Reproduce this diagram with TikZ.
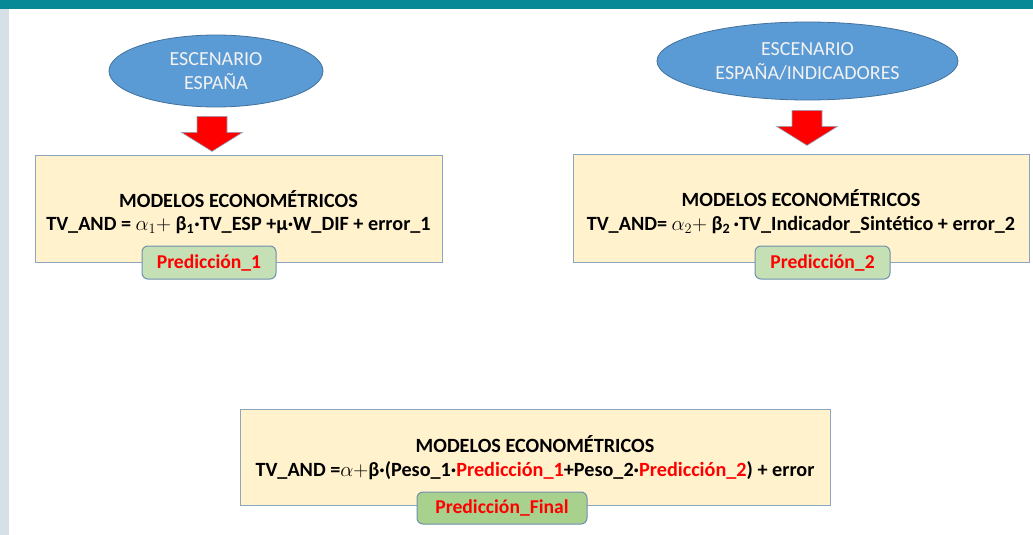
\documentclass[tikz,border=0pt]{standalone}
\usepackage{fontspec}
\setmainfont{Carlito}
\usetikzlibrary{shapes.geometric}
\definecolor{teal1}{HTML}{088A96}
\definecolor{strip}{HTML}{D6E1E7}
\definecolor{ellfill}{HTML}{5B9BD5}
\definecolor{elldraw}{HTML}{41719C}
\definecolor{boxfill}{HTML}{FFF2CC}
\definecolor{boxdraw}{HTML}{8EA5C0}
\definecolor{lblfill}{HTML}{C5E0B4}
\definecolor{lblfillb}{HTML}{A9D18E}
\definecolor{lbldraw}{HTML}{6F8FAF}
\definecolor{redt}{HTML}{FF0000}
\tikzset{
  scen/.style={ellipse, fill=ellfill, draw=elldraw, line width=0.8pt, text=white!95!black, align=center, font=\fontsize{20}{24}\selectfont, inner sep=0pt},
  modelbox/.style={rectangle, fill=boxfill, draw=boxdraw, line width=1pt, inner sep=0pt},
  modeltext/.style={align=center, font=\bfseries\fontsize{20.2}{23.5}\selectfont, inner sep=0pt},
  lbl/.style={rectangle, rounded corners=6pt, fill=lblfill, draw=lbldraw, line width=1pt, text=redt, font=\bfseries\fontsize{19.6}{22}\selectfont, inner sep=0pt},
  redarrow/.style={fill=redt, draw=elldraw!60, line width=0.6pt}
}
\begin{document}
\begin{tikzpicture}[x=1pt,y=-1pt]
\useasboundingbox (0,0) rectangle (1033,535);
\fill[white] (0,0) rectangle (1033,535);
\fill[teal1] (0,0) rectangle (1033,9);
\fill[strip] (0,9) rectangle (9,535);

% scenarios
\node[scen, minimum width=214pt, minimum height=72pt] (e1) at (216,71) {ESCENARIO\\ESPAÑA};
\node[scen, minimum width=301pt, minimum height=78pt] (e2) at (807.5,61) {ESCENARIO\\ESPAÑA/INDICADORES};

% model boxes
\node[modelbox, minimum width=407pt, minimum height=107pt] (m1) at (238.5,209) {};
\node[modeltext] (t1) at ([yshift=-3pt]m1.center) {MODELOS ECONOMÉTRICOS\\TV\_AND = $\alpha_1 +$ β$_{\mathbf{1}}$·TV\_ESP +μ·W\_DIF + error\_1};
\node[modelbox, minimum width=456pt, minimum height=108pt] (m2) at (801,208.5) {};
\node[modeltext] (t2) at ([yshift=-3pt]m2.center) {MODELOS ECONOMÉTRICOS\\TV\_AND= $\alpha_2 +$ β$_{\mathbf{2}}$\,·TV\_Indicador\_Sintético + error\_2};
\node[modelbox, minimum width=590pt, minimum height=96pt] (m3) at (535,457) {};
\node[modeltext] (t3) at ([yshift=-0.5pt]m3.center) {MODELOS ECONOMÉTRICOS\\TV\_AND =$\alpha{+}$β·(Peso\_1·\textcolor{redt}{Predicción\_1}+Peso\_2·\textcolor{redt}{Predicción\_2}) + error};

% labels
\node[lbl, minimum width=134pt, minimum height=33pt] (p1) at (209,262.5) {Predicción\_1};
\node[lbl, minimum width=135pt, minimum height=33pt] (p2) at (822.5,262.5) {Predicción\_2};
\node[lbl, fill=lblfillb, minimum width=170pt, minimum height=32pt] (pf) at (502,508) {Predicción\_Final};

% block arrows
\coordinate (a1) at ([yshift=-9pt]e1.south -| 212,0);
\coordinate (a2) at ([yshift=-10pt]e2.south -| 807,0);
\foreach \c in {a1,a2}{
  \draw[redarrow] ([xshift=-15pt]\c) -- ([xshift=15pt]\c) -- ([xshift=15pt,yshift=-16pt]\c) -- ([xshift=30.5pt,yshift=-16pt]\c) -- ([yshift=-35pt]\c) -- ([xshift=-30.5pt,yshift=-16pt]\c) -- ([xshift=-15pt,yshift=-16pt]\c) -- cycle;
}
\end{tikzpicture}
\end{document}
